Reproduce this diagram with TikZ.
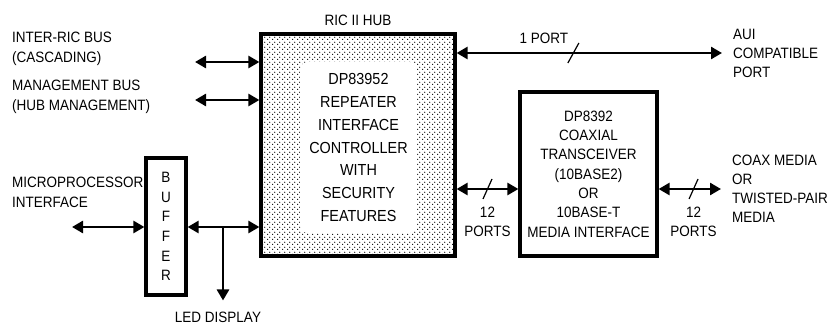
\documentclass[tikz,border=0pt]{standalone}
\usepackage{fontspec}
\setmainfont{Liberation Sans}[FakeStretch=0.9]
\usetikzlibrary{arrows.meta,positioning,patterns.meta}
\tikzdeclarepattern{name=stipple, type=uncolored,
  bounding box={(0pt,0pt) and (4.6pt,4.6pt)}, tile size={(4.6pt,4.6pt)},
  code={\fill (0.7pt,0.7pt) circle (0.7pt); \fill (3pt,3pt) circle (0.7pt);}}
\tikzstyle{chip} = [rectangle, draw, line width=3.2pt, inner sep=0pt, align=center]
\tikzstyle{bus} = [{Triangle[length=11pt,width=12pt]}-{Triangle[length=11pt,width=12pt]}, line width=2.6pt]
\tikzstyle{oneway} = [-{Triangle[length=11pt,width=12pt]}, line width=2.6pt]
\tikzstyle{lbl} = [inner sep=0pt, align=left, font=\fontsize{15}{20}\selectfont]
\tikzstyle{slash} = [line width=1.2pt]

\begin{document}
\begin{tikzpicture}[x=1pt, y=-1pt]
    \useasboundingbox (0,0) rectangle (828,324);

    % blocks
    \node [chip, minimum width=194pt, minimum height=222pt, pattern=stipple] (hub) at (358,145) {};
    \node [fill=white, rounded corners=8pt, minimum width=117pt, minimum height=171pt, inner sep=0pt,
           align=center, font=\fontsize{16}{22.7}\selectfont] (hubtxt) at (358.5,147.5)
          {DP83952\\REPEATER\\INTERFACE\\CONTROLLER\\WITH\\SECURITY\\FEATURES};
    \node [lbl, above=7pt of hub] (hubname) {RIC II HUB};
    \node [chip, minimum width=137pt, minimum height=164pt, font=\fontsize{15}{19.3}\selectfont] (xcvr) at (588.5,174)
          {DP8392\\COAXIAL\\TRANSCEIVER\\(10BASE2)\\OR\\10BASE-T\\MEDIA INTERFACE};
    \node [chip, minimum width=40pt, minimum height=137pt, font=\fontsize{15}{19.6}\selectfont] (buf) at (166,226.5)
          {B\\U\\F\\F\\E\\R};

    % labels
    \node [lbl, anchor=west] (intric) at (12,49) {INTER-RIC BUS\\(CASCADING)};
    \node [lbl, anchor=west] (mgmt) at (12,97) {MANAGEMENT BUS\\(HUB MANAGEMENT)};
    \node [lbl, anchor=west] (micro) at (12,192.5) {MICROPROCESSOR\\INTERFACE};
    \node [lbl] (led) at (218,317) {LED DISPLAY};

    % free ends
    \coordinate (intricend) at (195,62);
    \coordinate (mgmtend) at (195,100);
    \coordinate (microend) at (72,227);
    \coordinate (ledtap) at (223,227);
    \coordinate (auiend) at (722,53);
    \coordinate (mediaend) at (721,189);

    \draw [bus] (intricend) -- (intricend -| hub.west);
    \draw [bus] (mgmtend) -- (mgmtend -| hub.west);
    \draw [bus] (microend) -- (microend -| buf.west);
    \draw [bus] (microend -| buf.east) -- (microend -| hub.west);
    \draw [oneway, shorten >=11pt] (ledtap) -- (ledtap |- led.north);

    \draw [bus] (auiend -| hub.east) -- coordinate[pos=0.44] (s1) (auiend);
    \draw [slash] (s1) +(-5.5,10) -- +(5.5,-10);
    \node [lbl, above left=9pt and 5pt of s1] (oneport) {1 PORT};
    \node [lbl, right=11pt of auiend, font=\fontsize{15}{19}\selectfont] (aui) {AUI\\COMPATIBLE\\PORT};

    \draw [bus] (mediaend -| hub.east) -- coordinate[midway] (s2) (mediaend -| xcvr.west);
    \draw [slash] (s2) +(-4.5,10) -- +(4.5,-10);
    \node [lbl, align=center, below=18pt of s2, font=\fontsize{15}{19}\selectfont] (ports1) {12\\PORTS};
    \draw [bus] (mediaend -| xcvr.east) -- coordinate[pos=0.56] (s3) (mediaend);
    \draw [slash] (s3) +(-4.5,10) -- +(4.5,-10);
    \node [lbl, align=center, below=18pt of s3, font=\fontsize{15}{19}\selectfont] (ports2) {12\\PORTS};
    \node [lbl, right=11pt of mediaend, font=\fontsize{15}{19}\selectfont] (media) {COAX MEDIA\\OR\\TWISTED-PAIR\\MEDIA};
\end{tikzpicture}
\end{document}
